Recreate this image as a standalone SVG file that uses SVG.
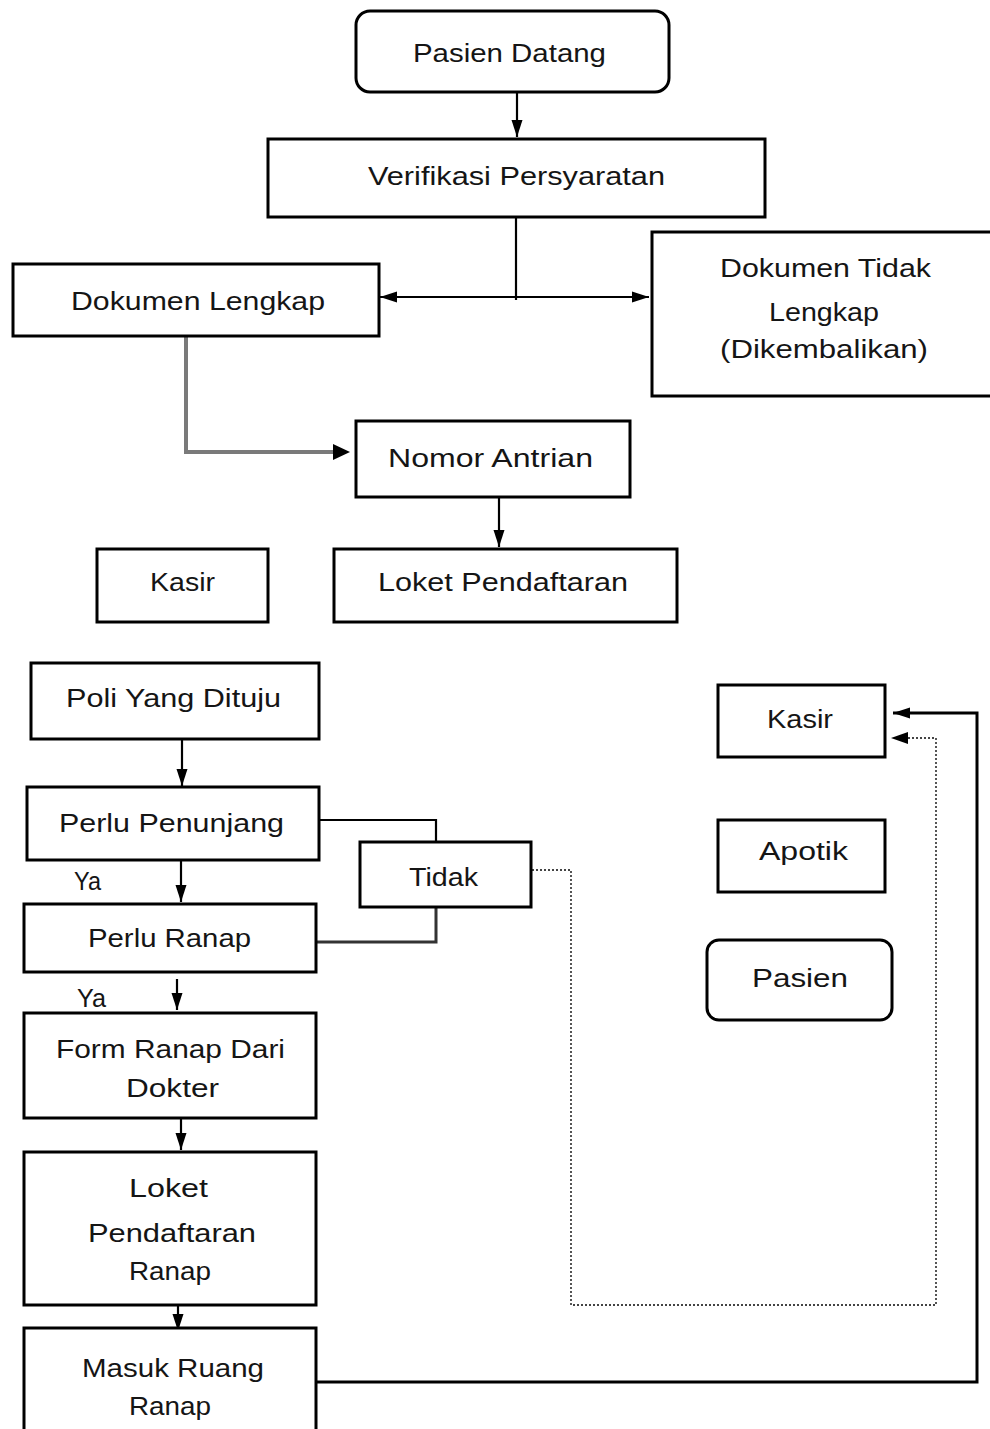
<svg xmlns="http://www.w3.org/2000/svg" width="990" height="1429" viewBox="0 0 990 1429">
<style>
.box{fill:#fff;stroke:#000;stroke-width:3}
.t{font-family:"Liberation Sans",Arial,sans-serif;font-size:25px;fill:#151515;text-anchor:middle}
.c{fill:none;stroke:#000;stroke-width:2.2}
.g{fill:none;stroke:#7a7a7a;stroke-width:4}
.d{fill:none;stroke:#444;stroke-width:1.8;stroke-dasharray:2,2}
</style>
<defs>
<marker id="ah" markerUnits="userSpaceOnUse" markerWidth="17" markerHeight="12" refX="17" refY="6" viewBox="0 0 17 12" orient="auto">
<path d="M0,0.5 L17,6 L0,11.5 Z" fill="#000"/>
</marker>
</defs>
<rect width="990" height="1429" fill="#fff"/>
<g id="connectors">
<path class="c" d="M517,93 V137" marker-end="url(#ah)"/>
<path class="c" d="M516,218 V300"/>
<path class="c" d="M516,297 H380" marker-end="url(#ah)"/>
<path class="c" d="M516,297 H649" marker-end="url(#ah)"/>
<path class="g" d="M186,337 V452 H335"/>
<path d="M333,444 L350,452 L333,460 Z" fill="#000"/>
<path class="c" d="M499,498 V547" marker-end="url(#ah)"/>
<path class="c" d="M182,740 V786" marker-end="url(#ah)"/>
<path class="c" d="M319,820 H436 V841"/>
<path class="c" d="M181,861 V902" marker-end="url(#ah)"/>
<path class="c" d="M436,908 V942 H317" style="stroke:#333;stroke-width:3"/>
<path class="c" d="M177,979 V1010" marker-end="url(#ah)"/>
<path class="c" d="M181,1119 V1150" marker-end="url(#ah)"/>
<path class="c" d="M178,1306 V1331" marker-end="url(#ah)"/>
<path class="c" d="M316,1382 H977 V713 H893" style="stroke-width:3" marker-end="url(#ah)"/>
<path class="d" d="M532,870 H571 V1305 H936 V738 H905"/>
<path d="M908,732 L891,738 L908,744 Z" fill="#000"/>
</g>
<g id="pasien-datang">
<rect class="box" x="356" y="11" width="313" height="81" rx="14"/>
<text class="t" x="509.5" y="62" textLength="193" lengthAdjust="spacingAndGlyphs">Pasien Datang</text>
</g>
<g id="verifikasi">
<rect class="box" x="268" y="139" width="497" height="78"/>
<text class="t" x="516.5" y="185" textLength="297" lengthAdjust="spacingAndGlyphs">Verifikasi Persyaratan</text>
</g>
<g id="dokumen-lengkap">
<rect class="box" x="13" y="264" width="366" height="72"/>
<text class="t" x="198" y="310" textLength="254" lengthAdjust="spacingAndGlyphs">Dokumen Lengkap</text>
</g>
<g id="dokumen-tidak-lengkap">
<rect class="box" x="652" y="232" width="345" height="164"/>
<text class="t" x="825.5" y="277" textLength="211" lengthAdjust="spacingAndGlyphs">Dokumen Tidak</text>
<text class="t" x="824" y="321" textLength="110" lengthAdjust="spacingAndGlyphs">Lengkap</text>
<text class="t" x="824" y="358" textLength="208" lengthAdjust="spacingAndGlyphs">(Dikembalikan)</text>
</g>
<g id="nomor-antrian">
<rect class="box" x="356" y="421" width="274" height="76"/>
<text class="t" x="490.5" y="467" textLength="205" lengthAdjust="spacingAndGlyphs">Nomor Antrian</text>
</g>
<g id="kasir-1">
<rect class="box" x="97" y="549" width="171" height="73"/>
<text class="t" x="182.5" y="591" textLength="65" lengthAdjust="spacingAndGlyphs">Kasir</text>
</g>
<g id="loket-pendaftaran">
<rect class="box" x="334" y="549" width="343" height="73"/>
<text class="t" x="503" y="591" textLength="250" lengthAdjust="spacingAndGlyphs">Loket Pendaftaran</text>
</g>
<g id="poli">
<rect class="box" x="31" y="663" width="288" height="76"/>
<text class="t" x="173.5" y="707" textLength="215" lengthAdjust="spacingAndGlyphs">Poli Yang Dituju</text>
</g>
<g id="perlu-penunjang">
<rect class="box" x="27" y="787" width="292" height="73"/>
<text class="t" x="171.5" y="832" textLength="225" lengthAdjust="spacingAndGlyphs">Perlu Penunjang</text>
</g>
<g id="tidak">
<rect class="box" x="360" y="842" width="171" height="65"/>
<text class="t" x="443.5" y="886" textLength="69" lengthAdjust="spacingAndGlyphs">Tidak</text>
</g>
<g id="label-ya-1">
<text class="t" x="87.5" y="890" textLength="27" lengthAdjust="spacingAndGlyphs">Ya</text>
</g>
<g id="perlu-ranap">
<rect class="box" x="24" y="904" width="292" height="68"/>
<text class="t" x="169.5" y="947" textLength="163" lengthAdjust="spacingAndGlyphs">Perlu Ranap</text>
</g>
<g id="label-ya-2">
<text class="t" x="91.5" y="1007" textLength="29" lengthAdjust="spacingAndGlyphs">Ya</text>
</g>
<g id="form-ranap">
<rect class="box" x="24" y="1013" width="292" height="105"/>
<text class="t" x="170.5" y="1058" textLength="229" lengthAdjust="spacingAndGlyphs">Form Ranap Dari</text>
<text class="t" x="172.5" y="1097" textLength="93" lengthAdjust="spacingAndGlyphs">Dokter</text>
</g>
<g id="loket-pendaftaran-ranap">
<rect class="box" x="24" y="1152" width="292" height="153"/>
<text class="t" x="168.5" y="1197" textLength="79" lengthAdjust="spacingAndGlyphs">Loket</text>
<text class="t" x="172" y="1242" textLength="168" lengthAdjust="spacingAndGlyphs">Pendaftaran</text>
<text class="t" x="170" y="1280" textLength="82" lengthAdjust="spacingAndGlyphs">Ranap</text>
</g>
<g id="masuk-ruang-ranap">
<rect class="box" x="24" y="1328" width="292" height="120"/>
<text class="t" x="173" y="1377" textLength="182" lengthAdjust="spacingAndGlyphs">Masuk Ruang</text>
<text class="t" x="170" y="1415" textLength="82" lengthAdjust="spacingAndGlyphs">Ranap</text>
</g>
<g id="kasir-2">
<rect class="box" x="718" y="685" width="167" height="72"/>
<text class="t" x="800" y="728" textLength="66" lengthAdjust="spacingAndGlyphs">Kasir</text>
</g>
<g id="apotik">
<rect class="box" x="718" y="820" width="167" height="72"/>
<text class="t" x="803.5" y="860" textLength="89" lengthAdjust="spacingAndGlyphs">Apotik</text>
</g>
<g id="pasien">
<rect class="box" x="707" y="940" width="185" height="80" rx="12"/>
<text class="t" x="800" y="987" textLength="96" lengthAdjust="spacingAndGlyphs">Pasien</text>
</g>
</svg>
